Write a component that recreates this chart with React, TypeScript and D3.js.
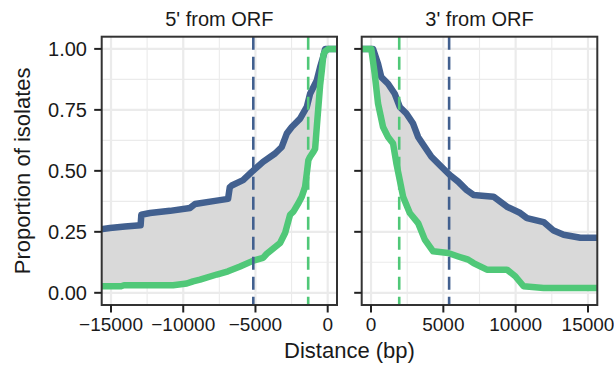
import React from "react";
import * as d3 from "d3";

type Pt = [number, number];

// 5' from ORF (distance, proportion)
const fiveBlue: Pt[] = [
  [-16000, 0.258], [-15069, 0.266], [-14030, 0.272], [-12950, 0.277], [-12900, 0.32],
  [-12299, 0.327], [-10914, 0.336], [-9529, 0.348], [-9183, 0.364], [-7798, 0.377],
  [-6898, 0.385], [-6780, 0.432], [-6641, 0.44], [-5859, 0.462], [-5256, 0.496],
  [-4474, 0.537], [-3643, 0.571], [-3179, 0.598], [-2832, 0.653], [-2486, 0.68],
  [-1911, 0.714], [-1447, 0.762], [-1219, 0.816], [-755, 0.871], [-526, 0.925],
  [-300, 0.97], [-180, 1.0], [700, 1.0],
];
const fiveGreen: Pt[] = [
  [-16000, 0.027], [-14300, 0.027], [-14100, 0.031], [-10700, 0.031], [-9757, 0.038],
  [-9320, 0.047], [-8836, 0.054], [-7680, 0.075], [-6898, 0.088], [-6066, 0.108],
  [-5145, 0.132], [-4474, 0.143], [-4218, 0.16], [-3296, 0.204], [-2950, 0.245],
  [-2604, 0.32], [-2375, 0.333], [-2029, 0.367], [-1794, 0.394], [-1565, 0.435],
  [-1447, 0.49], [-1337, 0.544], [-1219, 0.558], [-991, 0.578], [-873, 0.59],
  [-755, 0.68], [-526, 0.85], [-408, 0.911], [-298, 0.975], [-180, 0.99],
  [49, 1.0], [700, 1.0],
];
// 3' from ORF
const threeBlue: Pt[] = [
  [-700, 1.0], [138, 1.0], [485, 0.939], [713, 0.884], [1177, 0.857], [1641, 0.816],
  [1988, 0.762], [2445, 0.735], [2909, 0.694], [3255, 0.639], [3719, 0.598],
  [4176, 0.558], [4868, 0.517], [5450, 0.483], [6025, 0.456], [6600, 0.422],
  [7084, 0.401], [8469, 0.394], [9397, 0.353], [10318, 0.327], [10782, 0.306],
  [11932, 0.29], [12624, 0.255], [13317, 0.238], [14473, 0.226], [16000, 0.226],
];
const threeGreen: Pt[] = [
  [-700, 1.0], [20, 1.0], [256, 0.898], [485, 0.776], [831, 0.68], [1177, 0.639],
  [1524, 0.612], [1752, 0.531], [1988, 0.462], [2216, 0.394], [2680, 0.327],
  [3255, 0.286], [3719, 0.218], [4294, 0.17], [5332, 0.163], [6025, 0.149],
  [6717, 0.136], [7084, 0.122], [8012, 0.095], [9397, 0.095], [9972, 0.068],
  [10547, 0.027], [11932, 0.02], [16000, 0.02],
];

const fiveMedians = { blue: -5150, green: -1350 };
const threeMedians = { blue: 5400, green: 1950 };

const fiveTicks = [-15000, -10000, -5000, 0];
const threeTicks = [0, 5000, 10000, 15000];
const yTicks = [0, 0.25, 0.5, 0.75, 1.0];
const panelTitles = ["5' from ORF", "3' from ORF"];

const BLUE = "#42608f";
const GREEN = "#50c878";
const FONT = "'Liberation Sans', Arial, Helvetica, sans-serif";

const top = 36.7;
const bottom = 305;
const y = d3.scaleLinear().domain([-0.05, 1.05]).range([bottom, top]);

interface PanelProps {
  id: string;
  left: number;
  right: number;
  domain: [number, number];
  ticks: number[];
  blue: Pt[];
  green: Pt[];
  medians: { blue: number; green: number };
  title: string;
  showYLabels: boolean;
}

function Panel(p: PanelProps) {
  const x = d3.scaleLinear().domain(p.domain).range([p.left, p.right]);
  const line = d3
    .line<Pt>()
    .x((d) => x(d[0]))
    .y((d) => y(d[1]));
  const ribbon = line([...p.blue, ...p.green.slice().reverse()]) + "Z";
  const minorX: number[] = [];
  for (let i = 0; i < p.ticks.length; i++) {
    minorX.push(p.ticks[i] - 2500);
  }
  minorX.push(p.ticks[p.ticks.length - 1] + 2500);
  const minorY = [-0.125, 0.125, 0.375, 0.625, 0.875, 1.125];
  const cx = (p.left + p.right) / 2;
  return (
    <g>
      <defs>
        <clipPath id={p.id}>
          <rect x={p.left} y={top} width={p.right - p.left} height={bottom - top} />
        </clipPath>
      </defs>
      <rect x={p.left} y={top} width={p.right - p.left} height={bottom - top} fill="#fff" />
      <g clipPath={`url(#${p.id})`}>
        {minorY.map((v) => (
          <line key={"my" + v} x1={p.left} x2={p.right} y1={y(v)} y2={y(v)} stroke="#ebebeb" strokeWidth={1.1} />
        ))}
        {minorX.map((v) => (
          <line key={"mx" + v} x1={x(v)} x2={x(v)} y1={top} y2={bottom} stroke="#ebebeb" strokeWidth={1.1} />
        ))}
        {yTicks.map((v) => (
          <line key={"gy" + v} x1={p.left} x2={p.right} y1={y(v)} y2={y(v)} stroke="#ebebeb" strokeWidth={2.2} />
        ))}
        {p.ticks.map((v) => (
          <line key={"gx" + v} x1={x(v)} x2={x(v)} y1={top} y2={bottom} stroke="#ebebeb" strokeWidth={2.2} />
        ))}
        <path d={ribbon} fill="#d9d9d9" stroke="none" />
        <path d={line(p.blue) || ""} fill="none" stroke={BLUE} strokeWidth={6.5} strokeLinejoin="round" />
        <path d={line(p.green) || ""} fill="none" stroke={GREEN} strokeWidth={6.5} strokeLinejoin="round" />
        <line x1={x(p.medians.blue)} x2={x(p.medians.blue)} y1={top} y2={bottom} stroke={BLUE} strokeWidth={2.6} strokeDasharray="13,7" />
        <line x1={x(p.medians.green)} x2={x(p.medians.green)} y1={top} y2={bottom} stroke={GREEN} strokeWidth={2.6} strokeDasharray="13,7" />
      </g>
      <rect x={p.left} y={top} width={p.right - p.left} height={bottom - top} fill="none" stroke="#333" strokeWidth={2} />
      {yTicks.map((v) => (
        <g key={"yt" + v}>
          <line x1={p.left - 7.5} x2={p.left} y1={y(v)} y2={y(v)} stroke="#222" strokeWidth={2} />
          {p.showYLabels && (
            <text x={87} y={y(v)} dy="0.36em" textAnchor="end" fontSize={20} fill="#1a1a1a" fontFamily={FONT}>
              {d3.format(".2f")(v)}
            </text>
          )}
        </g>
      ))}
      {p.ticks.map((v) => (
        <g key={"xt" + v}>
          <line x1={x(v)} x2={x(v)} y1={bottom} y2={bottom + 7.5} stroke="#222" strokeWidth={2} />
          <text x={x(v)} y={330.5} textAnchor="middle" fontSize={19} fill="#1a1a1a" fontFamily={FONT}>
            {v < 0 ? "\u2212" + Math.abs(v) : String(v)}
          </text>
        </g>
      ))}
      <text x={cx} y={26} textAnchor="middle" fontSize={20} fill="#1a1a1a" fontFamily={FONT}>
        {p.title}
      </text>
    </g>
  );
}

export default function App() {
  return (
    <svg width={614} height={365} style={{ position: "absolute", left: 0, top: 0, background: "#fff" }}>
      <rect width={614} height={365} fill="#fff" />
      <Panel
        id="clip5"
        left={101.7}
        right={337}
        domain={[-15644, 644]}
        ticks={fiveTicks}
        blue={fiveBlue}
        green={fiveGreen}
        medians={fiveMedians}
        title={panelTitles[0]}
        showYLabels={true}
      />
      <Panel
        id="clip3"
        left={361.7}
        right={597.3}
        domain={[-644, 15644]}
        ticks={threeTicks}
        blue={threeBlue}
        green={threeGreen}
        medians={threeMedians}
        title={panelTitles[1]}
        showYLabels={false}
      />
      <text x={349.5} y={358} textAnchor="middle" fontSize={22} fill="#1a1a1a" fontFamily={FONT}>
        Distance (bp)
      </text>
      <text
        transform={`translate(30,${(top + bottom) / 2}) rotate(-90)`}
        textAnchor="middle"
        fontSize={22}
        fill="#1a1a1a"
        fontFamily={FONT}
      >
        Proportion of isolates
      </text>
    </svg>
  );
}
